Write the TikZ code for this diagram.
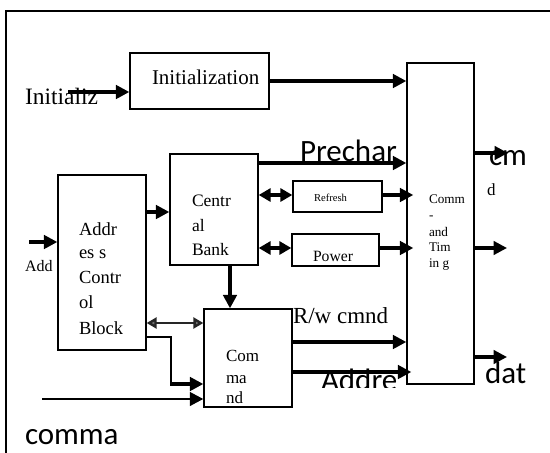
\documentclass[tikz,border=0pt]{standalone}
\usepackage{fontspec}
\setmainfont{Liberation Serif}
\newfontfamily\calfont{Carlito}
\usetikzlibrary{arrows.meta}
\tikzset{
  box/.style={draw, line width=1.3pt, inner sep=0pt},
  lbl/.style={anchor=base west, inner sep=0pt, outer sep=0pt},
  big/.style={lbl, font=\calfont\fontsize{31}{31}\selectfont},
  wire/.style={line width=3.2pt},
  arr/.style={wire, -{Triangle[length=13.5pt,width=13.5pt]}},
  darr/.style={wire, {Triangle[length=12pt,width=13pt]}-{Triangle[length=12pt,width=13pt]}},
  garr/.style={line width=2.4pt, draw=black!85, {Triangle[length=10pt,width=11pt,fill=black!55]}-{Triangle[length=10pt,width=11pt,fill=black!55]}},
}
\begin{document}
\begin{tikzpicture}[x=1pt,y=-1pt]
\useasboundingbox (0,0) rectangle (550,453);
% outer frame
\draw[line width=1.3pt] (6,453) -- (6,11) -- (550,11);

% texts
\node[lbl, font=\fontsize{23.5}{24}\selectfont] (tinitz) at (25,104) {Initializ};
\node[lbl, font=\fontsize{21}{21}\selectfont] (tinit) at (152,84) {Initialization};
\node[lbl, font=\fontsize{16}{16}\selectfont] (tadd) at (25,271) {Add};
\node[lbl, font=\fontsize{18.5}{18}\selectfont] (ta1) at (79,235) {Addr};
\node[lbl, font=\fontsize{18.5}{18}\selectfont] (ta2) at (79,258) {es s};
\node[lbl, font=\fontsize{18.5}{18}\selectfont] (ta3) at (79,283) {Contr};
\node[lbl, font=\fontsize{18.5}{18}\selectfont] (ta4) at (79,308) {ol};
\node[lbl, font=\fontsize{18.5}{18}\selectfont] (ta5) at (79,334) {Block};
\node[lbl, font=\fontsize{17.5}{18}\selectfont] (tb1) at (192,206) {Centr};
\node[lbl, font=\fontsize{17.5}{18}\selectfont] (tb2) at (192,231) {al};
\node[lbl, font=\fontsize{17.5}{18}\selectfont] (tb3) at (192,255) {Bank};
\node[lbl, font=\fontsize{17}{18}\selectfont] (tc1) at (226,361) {Com};
\node[lbl, font=\fontsize{17}{18}\selectfont] (tc2) at (226,383) {ma};
\node[lbl, font=\fontsize{17}{18}\selectfont] (tc3) at (226,403) {nd};
\node[lbl, font=\fontsize{23}{23}\selectfont] (trw) at (293,323) {R/w cmnd};
\node[lbl, font=\fontsize{10.6}{11}\selectfont] (tref) at (314,201) {Refresh};
\node[lbl, font=\fontsize{15.7}{16}\selectfont] (tpow) at (313,261) {Power};
\node[lbl, font=\fontsize{13.2}{13}\selectfont] (tt1) at (429,203) {Comm};
\node[lbl, font=\fontsize{13.2}{13}\selectfont] (tt2) at (429,219) {-};
\node[lbl, font=\fontsize{13.2}{13}\selectfont] (tt3) at (429,236) {and};
\node[lbl, font=\fontsize{13.2}{13}\selectfont] (tt4) at (429,251) {Tim};
\node[lbl, font=\fontsize{13.2}{13}\selectfont] (tt5) at (429,267) {in g};
\node[lbl, font=\fontsize{17}{17}\selectfont] (td) at (487,195) {d};
\node[big] (tpre) at (300,161) {Prechar};
\node[big] (tcm) at (489,165) {cm};
\node[big] (tdat) at (485,383) {dat};
\node[big] (tcomma) at (25,444) {comma};
\begin{scope}
  \clip (300,355) rectangle (406,387);
  \node[big] (taddre) at (321,390) {Addre};
\end{scope}

% boxes
\node[box, minimum width=139pt, minimum height=56pt] (init) at (199.5,81) {};
\node[box, minimum width=67pt, minimum height=321pt] (bigb) at (440.5,223.5) {};
\node[box, minimum width=88pt, minimum height=175pt] (addr) at (102,262.5) {};
\node[box, minimum width=88pt, minimum height=111pt] (bank) at (214,209.5) {};
\node[box, minimum width=89pt, minimum height=31pt] (refresh) at (337.5,196.5) {};
\node[box, minimum width=87pt, minimum height=32pt] (power) at (335.5,250) {};
\node[box, minimum width=88pt, minimum height=98pt] (cmd) at (248,358) {};

% free ends
\coordinate (inA) at (68,92);
\coordinate (addIn) at (29,242);
\coordinate (cIn) at (42,399);
\coordinate (elb) at (171,384);
\coordinate (o1) at (508,153);
\coordinate (o2) at (507,248);
\coordinate (o3) at (507,357);

% connectors
\draw[arr] (inA) -- (inA -| init.west);
\draw[arr] (init.east) -- (init.east -| bigb.west);
\draw[arr] (addIn) -- (addIn -| addr.west);
\draw[arr] (addr.east |- 0,212) -- (bank.west |- 0,212);
\draw[arr] (bank.east |- 0,163) -- (bigb.west |- 0,163);
\draw[darr] (bank.east |- 0,195) -- (refresh.west |- 0,195);
\draw[arr] (refresh.east |- 0,195) -- ([xshift=7pt]bigb.west |- 0,195);
\draw[darr] (bank.east |- 0,248) -- (power.west |- 0,248);
\draw[arr] (power.east |- 0,248) -- ([xshift=7pt]bigb.west |- 0,248);
\draw[arr] (bank.south -| 230,0) -- (cmd.north -| 230,0);
\draw[garr] (addr.east |- 0,323) -- (cmd.west |- 0,323);
\draw[line width=1.3pt] (addr.east |- 0,337) -| (elb);
\draw[arr] ([xshift=-0.6pt]elb) -- (elb -| cmd.west);
\draw[arr, line width=2.6pt] (cIn) -- (cIn -| cmd.west);
\draw[arr] (cmd.east |- 0,342) -- (bigb.west |- 0,342);
\draw[arr] (cmd.east |- 0,372) -- ([xshift=5pt]bigb.west |- 0,372);
\draw[arr] (bigb.east |- o1) -- (o1);
\draw[arr] (bigb.east |- o2) -- (o2);
\draw[arr] (bigb.east |- o3) -- (o3);
\end{tikzpicture}
\end{document}
